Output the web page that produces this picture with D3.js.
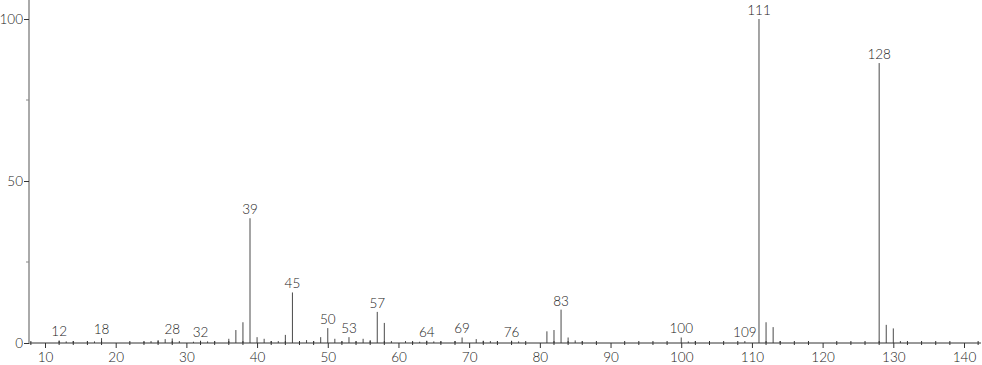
<!DOCTYPE html>
<html>
<head>
<meta charset="utf-8">
<script src="https://cdn.jsdelivr.net/npm/d3@7"></script>
<style>
  body { margin: 0; background: #fff; }
  text { font-family: Lato, "DejaVu Sans", sans-serif; fill: #222; }
</style>
</head>
<body>
<svg id="chart" width="982" height="365"></svg>
<script>
// m/z values and relative intensities
var mz = [12, 13, 14, 16, 17, 18, 24, 25, 26, 27, 28, 29, 31, 32, 33, 34, 36, 37, 38, 39,
          40, 41, 42, 43, 44, 45, 46, 47, 48, 49, 50, 51, 52, 53, 54, 55, 56, 57, 58, 59,
          61, 62, 63, 64, 65, 66, 68, 69, 71, 72, 73, 74, 76, 77, 81, 82, 83, 84, 85, 86,
          100, 101, 102, 109, 111, 112, 113, 114, 128, 129, 130, 131];
var intensity = [0.8, 0.5, 0.6, 0.5, 0.5, 1.5, 0.4, 0.6, 0.9, 1.2, 1.4, 0.6, 0.4, 0.7, 0.5, 0.5, 1.3, 4.0, 6.4, 38.5,
                 1.8, 1.3, 0.6, 0.6, 2.5, 15.6, 0.6, 0.9, 0.6, 1.8, 4.6, 1.3, 0.5, 1.8, 0.5, 1.3, 0.9, 9.6, 6.2, 0.6,
                 0.6, 0.3, 0.4, 0.7, 0.5, 0.5, 0.6, 1.7, 1.2, 0.7, 0.6, 0.6, 0.7, 0.5, 3.6, 4.0, 10.3, 1.7, 0.8, 0.5,
                 1.7, 0.5, 0.6, 0.6, 100, 6.4, 4.9, 0.6, 86.4, 5.6, 4.5, 0.6];
// peaks that carry a label
var labeled = [12, 18, 28, 32, 39, 45, 50, 53, 57, 64, 69, 76, 83, 100, 109, 111, 128];
var xMajor = [10, 20, 30, 40, 50, 60, 70, 80, 90, 100, 110, 120, 130, 140];
var yMajor = [0, 50, 100];
var yMinor = [25, 75];

var svg = d3.select('#chart');

var x = d3.scaleLinear().domain([10, 140]).range([45, 964]);
var y = d3.scaleLinear().domain([0, 100]).range([343, 19]);

var xMin = 7.73, xMax = 142.4;
var xMinor = d3.range(8, 143, 2).filter(function (v) { return v % 10 !== 0; });

var peaks = mz.map(function (m, i) { return { mz: m, value: intensity[i] }; });

// peak sticks
svg.append('g').selectAll('line')
    .data(peaks)
    .enter().append('line')
    .attr('x1', function (d) { return x(d.mz); })
    .attr('x2', function (d) { return x(d.mz); })
    .attr('y1', y(0))
    .attr('y2', function (d) { return y(d.value); })
    .attr('stroke', '#4a4a4a')
    .attr('stroke-width', 1);

// peak labels
svg.append('g').selectAll('text')
    .data(peaks.filter(function (d) { return labeled.indexOf(d.mz) >= 0; }))
    .enter().append('text')
    .attr('x', function (d) { return x(d.mz); })
    .attr('y', function (d) { return y(d.value) - 4; })
    .attr('text-anchor', 'middle')
    .style('font-size', '13.5px')
    .style('font-weight', 300)
    .text(function (d) { return d.mz; });

// x axis: minor ticks crossing the line
var xAxisG = svg.append('g').attr('transform', 'translate(0,' + y(0) + ')');
xAxisG.append('line')
    .attr('x1', x(xMin)).attr('x2', x(xMax))
    .attr('stroke', '#333');
xAxisG.selectAll('.minor')
    .data(xMinor)
    .enter().append('line')
    .attr('class', 'minor')
    .attr('x1', function (d) { return x(d); })
    .attr('x2', function (d) { return x(d); })
    .attr('y1', -2).attr('y2', 2)
    .attr('stroke', '#333');

// x axis: major ticks and labels
var xAxis = d3.axisBottom(x).tickValues(xMajor).tickSize(5).tickPadding(4);
var xg = xAxisG.append('g').call(xAxis);
xg.select('.domain').remove();
xg.selectAll('.tick line').attr('stroke', '#333');
xg.selectAll('.tick text')
    .style('font-size', '13.5px')
    .style('font-weight', 300)
    .style('font-family', 'Lato, "DejaVu Sans", sans-serif')
    .attr('fill', '#222');

// y axis
var yAxisG = svg.append('g').attr('transform', 'translate(29,0)');
yAxisG.append('line')
    .attr('y1', 0).attr('y2', y(0))
    .attr('stroke', '#aaa').attr('stroke-width', 2);
yAxisG.selectAll('.minor')
    .data(yMinor)
    .enter().append('line')
    .attr('class', 'minor')
    .attr('y1', function (d) { return y(d); })
    .attr('y2', function (d) { return y(d); })
    .attr('x1', -3).attr('x2', 0)
    .attr('stroke', '#888');
var yAxis = d3.axisLeft(y).tickValues(yMajor).tickSize(5).tickPadding(1);
var yg = yAxisG.append('g').call(yAxis);
yg.select('.domain').remove();
yg.selectAll('.tick line').attr('stroke', '#333');
yg.selectAll('.tick text')
    .style('font-size', '13.5px')
    .style('font-weight', 300)
    .style('font-family', 'Lato, "DejaVu Sans", sans-serif')
    .attr('fill', '#222');
</script>
</body>
</html>
